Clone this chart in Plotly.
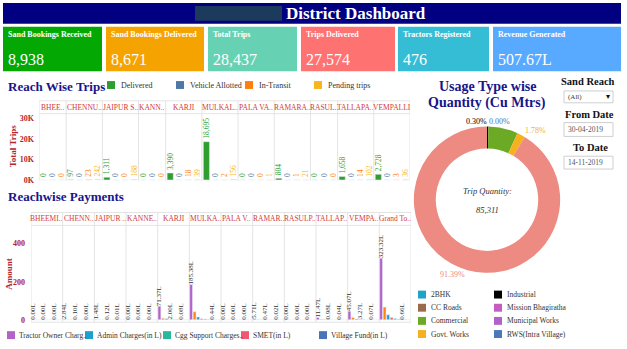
import plotly.graph_objects as go

W, H = 627, 349
FONT = "Liberation Serif"
NAVY = "#16168a"
AXRED = "#b3262c"
HDRRED = "#d23a3a"

def X(p):
    return p / W

def Y(p):
    return 1 - p / H

# ---------------- data ----------------
kpi_titles = ["Sand Bookings Received", "Sand Bookings Delivered", "Total Trips",
              "Trips Delivered", "Tractors Registered", "Revenue Generated"]
kpi_values = [8938, 8671, 28437, 27574, 476, 507.67]
kpi_suffix = ["", "", "", "", "", "L"]

trip_reaches = ["BHEE..", "CHENNU..", "JAIPUR S..", "KANN..", "KARJI", "MULKAL..",
                "PALA VA..", "RAMARA..", "RASUL..", "TALLAPA..", "VEMPALLI"]
trip_series = ["Delivered", "Vehicle Allotted", "In-Transit", "Pending trips"]
delivered = [0, 97, 1311, 0, 3390, 18695, 0, 804, 0, 1658, 2728]
vehicle_allotted = [0, 0, 0, 0, 0, 0, 0, 0, 0, 0, 0]
in_transit = [0, 23, 0, 0, 18, 2, 0, 1, 0, 14, 3]
pending_trips = [None, 242, 188, None, 39, 156, 1, 21, None, 102, 36]
trip_ticks = [0, 10000, 20000, 30000]
trip_tick_labels = ["0K", "10K", "20K", "30K"]

pay_reaches = ["BHEEMI..", "CHENN..", "JAIPUR ..", "KANNE..", "KARJI", "MULKA..",
               "PALA V..", "RAMAR..", "RASULP..", "TALLAP..", "VEMPA..", "Grand To.."]
pay_measures = ["Tractor Owner Charges(in L)", "Seigniorage Fee(in L)", "Admin Charges(in L)",
                "SMET(in L)", "Cgg Support Charges(in L)", "DMF(in L)", "Village Fund(in L)",
                "GST(in L)", "Other Charges(in L)"]
tractor_owner = [0.00, 2.84, 1.48, 0.00, 71.37, 185.38, 0.00, 5.71, 0.00, 11.47, 45.07, 323.32]
seigniorage = [0.00, 0.62, 0.31, 0.00, 8.10, 42.00, 0.00, 1.25, 0.00, 2.40, 11.80, 66.48]
admin_charges = [0.00, 0.24, 0.12, 0.00, 5.70, 15.00, 0.00, 0.46, 0.00, 0.92, 3.60, 26.04]
smet = [0.00, 0.10, 0.12, 0.00, 2.00, 5.19, 0.00, 0.47, 0.00, 0.98, 3.27, 12.13]
cgg_support = [0.00, 0.05, 0.03, 0.00, 1.40, 3.70, 0.00, 0.11, 0.00, 0.23, 0.90, 6.42]
dmf = [0.00, 0.03, 0.02, 0.00, 0.70, 1.90, 0.00, 0.06, 0.00, 0.11, 0.45, 3.27]
village_fund = [0.00, 0.00, 0.01, 0.00, 0.08, 0.44, 0.00, 0.02, 0.00, 0.04, 0.07, 0.66]
gst = [0.00, 0.01, 0.01, 0.00, 0.20, 0.50, 0.00, 0.02, 0.00, 0.05, 0.15, 0.94]
other_charges = [0.00, 0.00, 0.00, 0.00, 0.10, 0.25, 0.00, 0.01, 0.00, 0.02, 0.08, 0.46]
pay_ticks = [0, 200, 400]
pay_legend_items = ["Tractor Owner Charges(in L)", "Admin Charges(in L)", "Cgg Support Charges(in L)",
                    "SMET(in L)", "Village Fund(in L)"]

usage_types = ["2BHK", "CC Roads", "Commercial", "Govt. Works", "Industrial",
               "Mission Bhagiratha", "Municipal Works", "RWS(Intra Village)", "Private Use"]
usage_qty = [0, 0, 5571, 1519, 256, 0, 0, 2, 77963]
pie_order = ["Industrial", "RWS(Intra Village)", "Commercial", "Govt. Works", "Private Use"]

filter_reach = "(All)"
from_date = "30-04-2019"
to_date = "14-11-2019"

# ---------------- styles ----------------
kpi_colors = ["#03a803", "#f5a300", "#67d2b3", "#ff7272", "#35bdd5", "#57aaff"]
kpi_boxes = [(3, 102), (106, 204), (208, 297), (301, 395), (398, 489), (493, 621)]
trip_colors = {"Delivered": "#2f9e2f", "Vehicle Allotted": "#4e79a7",
               "In-Transit": "#ff7f0e", "Pending trips": "#f5b71b"}
pay_colors = ["#b462c8", "#ff8412", "#1fa0cc", "#ef5a72", "#2ab89b", "#3ea33a",
              "#4a74b8", "#9c6b4e", "#f0c419"]
usage_colors = {"2BHK": "#1fa3c9", "CC Roads": "#9c6b4e", "Commercial": "#6ca925",
                "Govt. Works": "#f5b21c", "Industrial": "#000000",
                "Mission Bhagiratha": "#c65cc0", "Municipal Works": "#b062c8",
                "RWS(Intra Village)": "#4a78b8", "Private Use": "#ed8a81"}

shapes = []
annotations = []

def text(x, y, s, size, color="#333", bold=False, italic=False, xanchor="left",
         yanchor="middle", angle=0, xref="paper"):
    annotations.append(dict(
        x=x if xref != "paper" else X(x), y=Y(y), xref=xref, yref="paper", text=s,
        showarrow=False, xanchor=xanchor, yanchor=yanchor, textangle=angle, borderpad=0,
        font=dict(family=FONT, size=size, color=color,
                  weight="bold" if bold else "normal",
                  style="italic" if italic else "normal")))

def rect(x0, y0, x1, y1, fill, line=None):
    shapes.append(dict(type="rect", xref="paper", yref="paper",
                       x0=X(x0), x1=X(x1), y0=Y(y1), y1=Y(y0), fillcolor=fill,
                       line=dict(width=1 if line else 0, color=line or fill), layer="below"))

def vline(x, y0, y1, xref="paper", color="#e4e4e4"):
    shapes.append(dict(type="line", xref=xref, yref="paper",
                       x0=x if xref != "paper" else X(x), x1=x if xref != "paper" else X(x),
                       y0=Y(y1), y1=Y(y0), line=dict(color=color, width=1), layer="below"))

def hline(x0, x1, y, xref="paper", color="#e4e4e4"):
    shapes.append(dict(type="line", xref=xref, yref="paper",
                       x0=x0 if xref != "paper" else X(x0), x1=x1 if xref != "paper" else X(x1),
                       y0=Y(y), y1=Y(y), line=dict(color=color, width=1), layer="below"))

fig = go.Figure()

# ---------------- header ----------------
rect(3, 3, 621, 24, "#000080")
rect(195, 6, 282, 21, "#1b3a5c")
text(285, 13.5, "District Dashboard", 17, "white", bold=True)

for (x0, x1), t, v, suf, c in zip(kpi_boxes, kpi_titles, kpi_values, kpi_suffix, kpi_colors):
    rect(x0, 27, x1, 72, c)
    text(x0 + 4, 35, t, 8, "white", bold=True)
    vs = f"{v:.2f}{suf}" if suf else f"{v:,}"
    text(x0 + 4, 60, vs, 16, "white")

# ---------------- trips chart ----------------
trip_data = {"Delivered": delivered, "Vehicle Allotted": vehicle_allotted,
             "In-Transit": in_transit, "Pending trips": pending_trips}
slot = 0
trip_x = {s: [] for s in trip_series}
trip_y = {s: [] for s in trip_series}
trip_panels = []
for i, r in enumerate(trip_reaches):
    start = slot
    for s in trip_series:
        v = trip_data[s][i]
        if v is None:
            continue
        trip_x[s].append(slot)
        trip_y[s].append(v)
        slot += 1
    trip_panels.append((start - 0.5, slot - 0.5))
n_trip_slots = slot

for s in trip_series:
    fig.add_trace(go.Bar(
        x=trip_x[s], y=trip_y[s], name=s, marker_color=trip_colors[s], width=0.68,
        texttemplate="%{y:,}", textposition="outside", textangle=-90,
        constraintext="none", cliponaxis=False,
        textfont=dict(family=FONT, size=7.5, color=trip_colors[s]),
        xaxis="x", yaxis="y", showlegend=False, hoverinfo="skip"))

T_HDR0, T_HDR1, T_BOT = 102, 115, 183
for (a, b), r in zip(trip_panels, trip_reaches):
    vline(a, T_HDR0, T_BOT, xref="x")
    text((a + b) / 2, (T_HDR0 + T_HDR1) / 2, r, 7.5, HDRRED, xanchor="center", xref="x")
vline(trip_panels[-1][1], T_HDR0, T_BOT, xref="x")
hline(-0.5, n_trip_slots - 0.5, T_HDR0, xref="x")
hline(-0.5, n_trip_slots - 0.5, T_HDR1, xref="x")

text(7, 88, "Reach Wise Trips", 13, NAVY, bold=True)
text(13, 148, "Total Trips", 9, AXRED, bold=True, xanchor="center", angle=-90)
for k, s in enumerate(trip_series):
    lx = 107 + k * 69
    rect(lx, 82, lx + 8, 90, trip_colors[s])
    text(lx + 13, 86, s, 8, "#333")

# ---------------- payments chart ----------------
pay_data = [tractor_owner, seigniorage, admin_charges, smet, cgg_support, dmf,
            village_fund, gst, other_charges]
n_meas = len(pay_measures)
labelled = {0, 3, 6}
for j, (name, vals) in enumerate(zip(pay_measures, pay_data)):
    xs = [i * n_meas + j for i in range(len(pay_reaches))]
    texts = None
    if j in labelled:
        texts = []
        for i, v in enumerate(vals):
            nb = [pay_data[k][i] for k in (j - 1, j + 1) if 0 <= k < n_meas]
            hide = any(b - v > 8 for b in nb)
            texts.append("" if hide else f"{v:.2f}L")
    fig.add_trace(go.Bar(
        x=xs, y=vals, name=name, marker_color=pay_colors[j], width=0.8,
        text=texts, textposition="outside", textangle=-90, constraintext="none",
        cliponaxis=False, textfont=dict(family=FONT, size=7, color="#333"),
        xaxis="x2", yaxis="y2", showlegend=False, hoverinfo="skip"))

n_pay_slots = len(pay_reaches) * n_meas
P_HDR0, P_HDR1, P_BOT = 215, 228, 326
for i, r in enumerate(pay_reaches):
    a = i * n_meas - 0.5
    b = a + n_meas
    vline(a, P_HDR0, P_BOT, xref="x2")
    text((a + b) / 2, (P_HDR0 + P_HDR1) / 2, r, 7.5, HDRRED, xanchor="center", xref="x2")
vline(n_pay_slots - 0.5, P_HDR0, P_BOT, xref="x2")
hline(-0.5, n_pay_slots - 0.5, P_HDR0, xref="x2")
hline(-0.5, n_pay_slots - 0.5, P_HDR1, xref="x2")
hline(-0.5, n_pay_slots - 0.5, P_BOT, xref="x2")

text(7, 199, "Reachwise Payments", 13, NAVY, bold=True)
text(9, 277, "Amount", 9, AXRED, bold=True, xanchor="center", angle=-90)
for k, name in enumerate(pay_legend_items):
    lx = 7 + k * 78
    col = pay_colors[pay_measures.index(name)]
    rect(lx, 335, lx + 8, 343, col)
    label = name if len(name) <= 19 else name[:19] + ".."
    text(lx + 11, 339, label, 7.5, "#333")

# ---------------- donut ----------------
CX, CY, R = 487, 202, 74
pie_vals = [usage_qty[usage_types.index(n)] for n in pie_order]
total_qty = sum(usage_qty)
fig.add_trace(go.Pie(
    labels=pie_order, values=pie_vals, sort=False, direction="clockwise", rotation=0,
    hole=0.7, textinfo="none", hoverinfo="skip", showlegend=False,
    marker=dict(colors=[usage_colors[n] for n in pie_order], line=dict(width=0)),
    domain=dict(x=[X(CX - R), X(CX + R)], y=[Y(CY + R), Y(CY - R)])))

import math
label_anchor = ["right", "left", "left", "right"]
cum = 0.0
k = 0
for n, v in zip(pie_order, pie_vals):
    frac = v / total_qty
    if n == "Commercial":
        cum += frac
        continue
    mid = (cum + frac / 2) * 2 * math.pi
    cum += frac
    lx = CX + (R + 5) * math.sin(mid)
    ly = CY - (R + 5) * math.cos(mid)
    text(lx, ly, f"{frac * 100:.2f}%", 8, usage_colors[n], xanchor=label_anchor[k])
    k += 1

text(CX, 193, "Trip Quantity:", 8.5, "#333", italic=True, xanchor="center")
text(CX, 212, f"{total_qty:,}", 8.5, "#333", italic=True, xanchor="center")
text(CX, 88, "Usage Type wise", 14, NAVY, bold=True, xanchor="center")
text(CX, 104, "Quantity (Cu Mtrs)", 14, NAVY, bold=True, xanchor="center")

for k, n in enumerate(usage_types[:8]):
    col, row = divmod(k, 4)
    lx = 418 + col * 76
    ly = 298 + row * 13.3
    rect(lx, ly - 4, lx + 8, ly + 4, usage_colors[n])
    text(lx + 12, ly, n, 7.5, "#333")

# ---------------- filters ----------------
text(588, 82, "Sand Reach", 10.5, "#111", bold=True, xanchor="center")
rect(564, 92, 613, 104, "white", "#cfcfcf")
text(567, 98, filter_reach, 7, "#333")
text(608, 98, "▾", 8, "#111", xanchor="center")
text(589, 116, "From Date", 10.5, "#111", bold=True, xanchor="center")
rect(564, 124, 613, 138, "white", "#cfcfcf")
text(567, 131, from_date, 7.5, "#555")
text(590, 149, "To Date", 10.5, "#111", bold=True, xanchor="center")
rect(564, 158, 613, 171, "white", "#cfcfcf")
text(567, 164.5, to_date, 7.5, "#555")

axis_common = dict(showgrid=False, zeroline=False, showline=False, fixedrange=True)
tickfont = dict(family=FONT, size=8, color=AXRED, weight="bold")
fig.update_layout(
    width=W, height=H, margin=dict(l=0, r=0, t=0, b=0),
    paper_bgcolor="white", plot_bgcolor="rgba(0,0,0,0)", barmode="overlay",
    showlegend=False, shapes=shapes, annotations=annotations,
    xaxis=dict(domain=[X(39), X(410)], range=[-0.5, n_trip_slots - 0.5],
               showticklabels=False, anchor="y", **axis_common),
    yaxis=dict(domain=[Y(T_BOT), Y(T_HDR1)], range=[-480, 32400], anchor="x",
               tickvals=trip_ticks, ticktext=trip_tick_labels, tickfont=tickfont,
               ticklabelstandoff=4, **axis_common),
    xaxis2=dict(domain=[X(31), X(411)], range=[-0.5, n_pay_slots - 0.5],
                showticklabels=False, anchor="y2", **axis_common),
    yaxis2=dict(domain=[Y(P_BOT - 1), Y(P_HDR1)], range=[-8, 496], anchor="x2",
                tickvals=pay_ticks, tickfont=tickfont, ticklabelstandoff=5, **axis_common),
)

fig.write_html("out.html")
